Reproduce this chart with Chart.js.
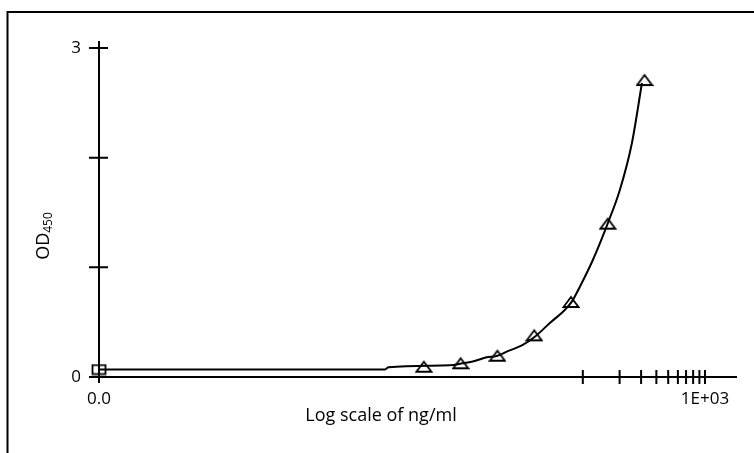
<!DOCTYPE html>
<html>
<head>
<meta charset="utf-8">
<script src="https://cdn.jsdelivr.net/npm/chart.js@4.4.1/dist/chart.umd.min.js"></script>
<style>
  html, body { margin: 0; padding: 0; background: #fff; }
</style>
</head>
<body>
<canvas id="odChart" width="754" height="453"></canvas>
<script>
// standards (ng/ml) and their OD450 readings
const concentrations = [5, 10, 20, 40, 80, 160, 320];
const odValues = [0.094, 0.125, 0.194, 0.380, 0.684, 1.398, 2.708];

// blank well, drawn at the "0.0" origin
const blankOd = [0.068];

// fitted curve, x in log10(ng/ml)
const curveLogConc = [-1.96, 0.377, 0.41, 0.91, 1.016, 1.115, 1.213, 1.295, 1.377, 1.508,
  1.607, 1.73, 1.852, 1.91, 1.975, 2.082, 2.205, 2.303, 2.402, 2.484];
const curveOd = [0.068, 0.068, 0.088, 0.107, 0.125, 0.146, 0.18, 0.191, 0.231, 0.292,
  0.367, 0.492, 0.611, 0.687, 0.821, 1.067, 1.404, 1.705, 2.134, 2.681];

// axes
const xOrigin = -1.96;     // log10 position used for "0.0"
const xEnd = 3.262;
const xTickConc = [100, 200, 300, 400, 500, 600, 700, 800, 900, 1000];
const yTicks = [0, 1, 2, 3];
const yTickLabels = { 0: '0', 3: '3' };

const FONT = "'Open Sans', 'DejaVu Sans', sans-serif";

function triangleMarker() {
  const c = document.createElement('canvas');
  c.width = 18; c.height = 14;
  const g = c.getContext('2d');
  g.lineWidth = 1.8;
  g.strokeStyle = '#000';
  g.beginPath();
  g.moveTo(9, 2);
  g.lineTo(16.5, 12);
  g.lineTo(1.5, 12);
  g.closePath();
  g.stroke();
  return c;
}

function squareMarker() {
  const c = document.createElement('canvas');
  c.width = 16; c.height = 12;
  const g = c.getContext('2d');
  g.lineWidth = 1.8;
  g.strokeStyle = '#000';
  g.strokeRect(1.5, 1.5, 13, 9);
  return c;
}

// outer frame, axis lines with cross ticks, axis titles
const decorations = {
  id: 'decorations',
  afterDatasetsDraw(chart) {
    const ctx = chart.ctx;
    const area = chart.chartArea;
    const xs = chart.scales.x, ys = chart.scales.y;
    ctx.save();
    ctx.strokeStyle = '#000';

    ctx.lineWidth = 2;
    ctx.beginPath();
    ctx.moveTo(7.5, 453);
    ctx.lineTo(7.5, 12);
    ctx.lineTo(754, 12);
    ctx.stroke();

    const x0 = area.left, y0 = area.bottom;
    ctx.beginPath();
    ctx.moveTo(x0, area.top - 7);
    ctx.lineTo(x0, y0 + 6);
    ctx.moveTo(x0 - 9, y0);
    ctx.lineTo(area.right, y0);
    ys.ticks.forEach(t => {
      const py = ys.getPixelForValue(t.value);
      ctx.moveTo(x0 - 10, py);
      ctx.lineTo(x0 + 9, py);
    });
    xs.ticks.forEach(t => {
      if (t.value === xOrigin) return;
      const px = xs.getPixelForValue(t.value);
      ctx.moveTo(px, y0 - 7);
      ctx.lineTo(px, y0 + 7);
    });
    ctx.stroke();

    ctx.fillStyle = '#000';
    ctx.textBaseline = 'alphabetic';
    ctx.textAlign = 'center';
    ctx.font = '18px ' + FONT;
    ctx.fillText('Log scale of ng/ml', 381, 421);

    ctx.translate(49, 236);
    ctx.rotate(-Math.PI / 2);
    ctx.textAlign = 'left';
    ctx.font = '18px ' + FONT;
    const wOD = ctx.measureText('OD').width;
    ctx.font = '12px ' + FONT;
    const wSub = ctx.measureText('450').width;
    const start = -(wOD + wSub) / 2;
    ctx.font = '18px ' + FONT;
    ctx.fillText('OD', start, 0);
    ctx.font = '12px ' + FONT;
    ctx.fillText('450', start + wOD, 3);
    ctx.restore();
  }
};

new Chart(document.getElementById('odChart'), {
  type: 'scatter',
  data: {
    datasets: [
      {
        label: 'fit',
        type: 'line',
        data: curveLogConc.map((x, i) => ({ x: x, y: curveOd[i] })),
        borderColor: '#000',
        borderWidth: 2,
        pointRadius: 0,
        cubicInterpolationMode: 'monotone',
        fill: false,
        order: 2
      },
      {
        label: 'standards',
        data: concentrations.map((c, i) => ({ x: Math.log10(c), y: odValues[i] })),
        pointStyle: triangleMarker(),
        clip: false,
        order: 1
      },
      {
        label: 'blank',
        data: blankOd.map(v => ({ x: xOrigin, y: v })),
        pointStyle: squareMarker(),
        clip: false,
        order: 1
      }
    ]
  },
  options: {
    responsive: false,
    animation: false,
    devicePixelRatio: 1,
    layout: { padding: { top: 48, right: 17, left: 0, bottom: 0 } },
    plugins: {
      legend: { display: false },
      tooltip: { enabled: false }
    },
    scales: {
      x: {
        type: 'linear',
        min: xOrigin,
        max: xEnd,
        afterBuildTicks(scale) {
          scale.ticks = [{ value: xOrigin }].concat(xTickConc.map(c => ({ value: Math.log10(c) })));
        },
        afterFit(scale) { scale.height = 76; },
        grid: { display: false, drawTicks: false },
        border: { display: false },
        ticks: {
          autoSkip: false,
          maxRotation: 0,
          padding: 12,
          color: '#000',
          font: { family: FONT, size: 17 },
          callback(v) {
            if (v === xOrigin) return '0.0';
            if (Math.abs(v - 3) < 1e-9) return '1E+03';
            return '';
          }
        }
      },
      y: {
        type: 'linear',
        min: 0,
        max: 3,
        afterBuildTicks(scale) {
          scale.ticks = yTicks.map(v => ({ value: v }));
        },
        afterFit(scale) { scale.width = 99; },
        grid: { display: false, drawTicks: false },
        border: { display: false },
        ticks: {
          padding: 18,
          color: '#000',
          font: { family: FONT, size: 17 },
          callback(v) { return yTickLabels[v] || ''; }
        }
      }
    }
  },
  plugins: [decorations]
});
</script>
</body>
</html>
